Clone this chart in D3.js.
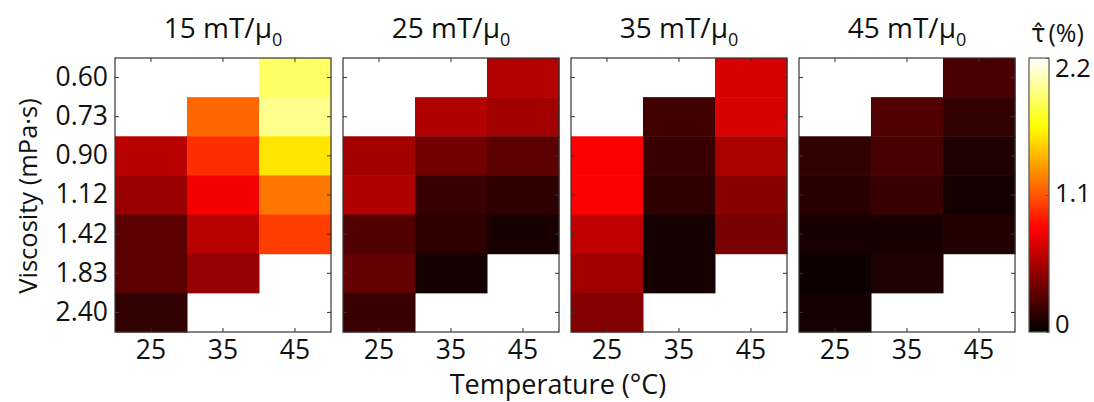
<!DOCTYPE html>
<html>
<head>
<meta charset="utf-8">
<script src="https://cdn.jsdelivr.net/npm/d3@7"></script>
<style>
  html, body { margin: 0; padding: 0; background: #fff; }
  svg text { font-family: "Open Sans", "Noto Sans", sans-serif; fill: #111; }
</style>
</head>
<body>
<svg id="chart" width="1094" height="402"></svg>
<script>
// Field strengths (one panel each), temperatures (columns), viscosities (rows)
const fields = ["15", "25", "35", "45"];
const temperatures = ["25", "35", "45"];
const viscosities = ["0.60", "0.73", "0.90", "1.12", "1.42", "1.83", "2.40"];

// tau-hat (%) per viscosity row, columns 25/35/45 °C; null = not measured
const tau15 = [
  [null, null, 1.87],
  [null, 1.16, 1.95],
  [0.60, 0.97, 1.57],
  [0.50, 0.79, 1.21],
  [0.29, 0.60, 1.02],
  [0.29, 0.49, null],
  [0.16, null, null]
];
const tau25 = [
  [null, null, 0.58],
  [null, 0.57, 0.52],
  [0.53, 0.37, 0.29],
  [0.57, 0.18, 0.15],
  [0.26, 0.15, 0.08],
  [0.32, 0.065, null],
  [0.18, null, null]
];
const tau35 = [
  [null, null, 0.70],
  [null, 0.21, 0.70],
  [0.81, 0.18, 0.55],
  [0.81, 0.15, 0.44],
  [0.62, 0.065, 0.39],
  [0.52, 0.065, null],
  [0.42, null, null]
];
const tau45 = [
  [null, null, 0.24],
  [null, 0.26, 0.16],
  [0.16, 0.23, 0.10],
  [0.13, 0.18, 0.065],
  [0.08, 0.08, 0.11],
  [0.04, 0.10, null],
  [0.065, null, null]
];
const panelData = [tau15, tau25, tau35, tau45];
const colorTicks = [0, 1.1, 2.2];

// "hot" colour map: black -> red -> yellow -> white
function hot(t) {
  t = Math.max(0, Math.min(1, t));
  const r = Math.min(1, t / 0.375);
  const g = Math.max(0, Math.min(1, (t - 0.375) / 0.375));
  const b = Math.max(0, Math.min(1, (t - 0.75) / 0.25));
  return d3.rgb(r * 255, g * 255, b * 255).toString();
}

const svg = d3.select("#chart");
const plotTop = 58, plotBottom = 332;
const panelW = 216, panelGap = 12, firstLeft = 115;
const tickFont = "26.5px", titleFont = "28px";

const color = d3.scaleSequential(hot).domain([0, 2.2]);
const y = d3.scaleBand().domain(viscosities).range([plotTop, plotBottom]);

fields.forEach((f, i) => {
  const left = firstLeft + i * (panelW + panelGap);
  const x = d3.scaleBand().domain(temperatures).range([left, left + panelW]);
  const g = svg.append("g");

  const cells = [];
  panelData[i].forEach((row, ri) => row.forEach((v, ci) => {
    if (v !== null) cells.push({ v: viscosities[ri], t: temperatures[ci], val: v });
  }));

  g.selectAll("rect.cell").data(cells).join("rect")
    .attr("class", "cell")
    .attr("x", d => x(d.t))
    .attr("y", d => y(d.v))
    .attr("width", x.bandwidth() + 0.5)
    .attr("height", y.bandwidth() + 0.5)
    .attr("fill", d => color(d.val));

  // inward ticks on all four sides
  const axStyle = sel => {
    sel.select(".domain").remove();
    sel.selectAll(".tick line").attr("stroke", "#333");
    sel.selectAll("text").style("font-size", tickFont).attr("fill", "#111");
  };
  g.append("g").attr("transform", `translate(0,${plotBottom})`)
    .call(d3.axisBottom(x).tickSize(-4).tickPadding(8)).call(axStyle);
  g.append("g").attr("transform", `translate(0,${plotTop})`)
    .call(d3.axisTop(x).tickSize(-4).tickFormat("")).call(axStyle);
  g.append("g").attr("transform", `translate(${left + panelW},0)`)
    .call(d3.axisRight(y).tickSize(-4).tickFormat("")).call(axStyle);
  g.append("g").attr("transform", `translate(${left},0)`)
    .call(d3.axisLeft(y).tickSize(-4).tickPadding(7)
      .tickFormat(i === 0 ? (d => d) : ""))
    .call(axStyle);

  g.append("rect")
    .attr("x", left).attr("y", plotTop)
    .attr("width", panelW).attr("height", plotBottom - plotTop)
    .attr("fill", "none").attr("stroke", "#333").attr("stroke-width", 1.2);

  // panel title: field in mT/μ0
  const title = g.append("text")
    .attr("x", left + panelW / 2).attr("y", 38)
    .attr("text-anchor", "middle")
    .style("font-size", titleFont);
  title.append("tspan").text(`${f} mT/μ`);
  title.append("tspan").attr("dy", 8).style("font-size", "18px").text("0");
});

// axis titles
svg.append("text")
  .attr("x", 558).attr("y", 394)
  .attr("text-anchor", "middle")
  .style("font-size", "27px")
  .text("Temperature (°C)");

svg.append("text")
  .attr("transform", `translate(37,196) rotate(-90)`)
  .attr("text-anchor", "middle")
  .style("font-size", "25.5px")
  .text("Viscosity (mPa·s)");

// colour bar
const cbX = 1029, cbW = 20;
const cScale = d3.scaleLinear().domain([0, 2.2]).range([plotBottom, plotTop]);
const defs = svg.append("defs");
const grad = defs.append("linearGradient").attr("id", "cbgrad")
  .attr("x1", 0).attr("y1", 1).attr("x2", 0).attr("y2", 0);
d3.range(0, 1.0001, 0.02).forEach(t => {
  grad.append("stop").attr("offset", t).attr("stop-color", hot(t));
});
svg.append("rect")
  .attr("x", cbX).attr("y", plotTop)
  .attr("width", cbW).attr("height", plotBottom - plotTop)
  .attr("fill", "url(#cbgrad)")
  .attr("stroke", "#555").attr("stroke-width", 1.2);

const cbAxis = svg.append("g").attr("transform", `translate(${cbX + cbW},0)`)
  .call(d3.axisRight(cScale).tickValues(colorTicks).tickSize(-3).tickPadding(6)
    .tickFormat(d => d === 0 ? "0" : d3.format(".1f")(d)))
  .call(sel => {
    sel.select(".domain").remove();
    sel.selectAll(".tick line").attr("stroke", "#555");
    sel.selectAll("text").style("font-size", "25.5px").attr("fill", "#111");
  });
// end labels sit just inside the bar's limits
cbAxis.selectAll(".tick text")
  .attr("dy", d => d === 0 ? "0em" : d === 2.2 ? "0.72em" : "0.25em");

// colour bar label: tau-hat (%)
const cbl = svg.append("text").attr("x", 1031).attr("y", 42).style("font-size", "25px");
cbl.append("tspan").style("font-family", "'DejaVu Sans', sans-serif").style("font-size", "24px").text("τ\u0302");
cbl.append("tspan").attr("dx", 3).text("(%)");
</script>
</body>
</html>
